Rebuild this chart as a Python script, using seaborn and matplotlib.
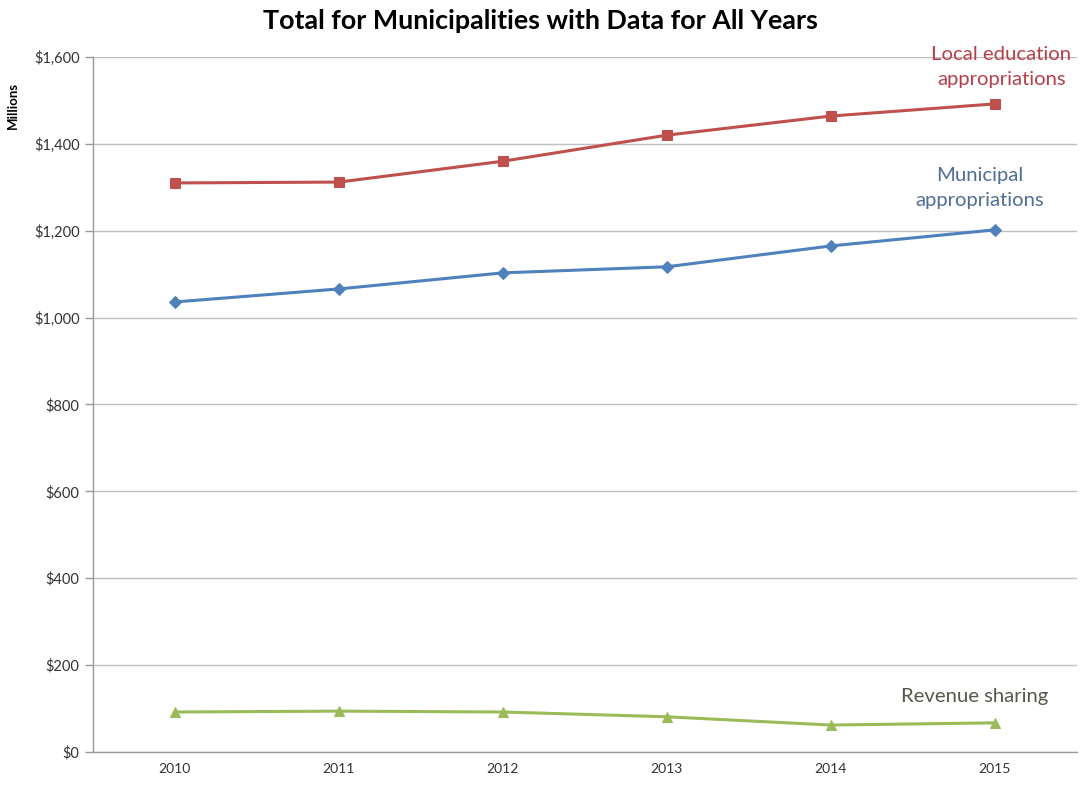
import matplotlib
matplotlib.use("Agg")
import matplotlib.pyplot as plt
import seaborn as sns
import pandas as pd
from matplotlib.ticker import FuncFormatter, FixedLocator

years = ["2010", "2011", "2012", "2013", "2014", "2015"]
local_education = [1310, 1312, 1360, 1420, 1464, 1492]
municipal = [1036, 1066, 1103, 1117, 1165, 1202]
revenue_sharing = [92, 94, 92, 81, 62, 67]

series_names = ["Local education appropriations", "Municipal appropriations", "Revenue sharing"]
colors = ["#C0504D", "#4F81BD", "#9BBB59"]
markers = ["s", "D", "^"]

sns.set_theme(style="white")
plt.rcParams["font.family"] = ["Lato", "DejaVu Sans"]

rows = []
for name, vals in zip(series_names, [local_education, municipal, revenue_sharing]):
    for i, (y, v) in enumerate(zip(years, vals)):
        rows.append({"idx": i, "year": y, "value": v, "series": name})
df = pd.DataFrame(rows)

fig = plt.figure(figsize=(10.8, 7.86), dpi=100)
ax = fig.add_axes([0.086, 0.0433, 0.911, 0.8842])

for name, c, m in zip(series_names, colors, markers):
    sub = df[df["series"] == name]
    sns.lineplot(data=sub, x="idx", y="value", color=c, marker=m, markersize=7 if m != "D" else 6.5,
                 markeredgecolor=c, linewidth=2.2, ax=ax, legend=False)

ax.set_xlim(-0.5, 5.5)
ax.set_ylim(0, 1600)
ax.set_yticks(range(0, 1601, 200))
ax.yaxis.set_major_formatter(FuncFormatter(lambda v, p: f"${int(v):,}"))
ax.set_xticks(range(len(years)))
ax.set_xticklabels(years)
ax.xaxis.set_minor_locator(FixedLocator([i - 0.5 for i in range(len(years) + 1)]))
ax.tick_params(axis="x", which="major", length=0, labelsize=10, pad=8, colors="#333333")
ax.tick_params(axis="x", which="minor", length=6, width=1, color="#999999", direction="out")
ax.tick_params(axis="y", length=6, width=1, color="#999999", direction="out", labelsize=10.5,
               colors="#333333", left=True)
ax.yaxis.grid(True, color="#BFBFBF", linewidth=1)
ax.set_axisbelow(True)
for s in ["top", "right"]:
    ax.spines[s].set_visible(False)
for s in ["left", "bottom"]:
    ax.spines[s].set_color("#999999")
    ax.spines[s].set_linewidth(1)
ax.set_xlabel("")
ax.set_ylabel("Millions", fontsize=9.5, fontweight="bold", color="black")
ax.yaxis.set_label_coords(-0.075, 0.93)

fig.text(0.5, 0.973, "Total for Municipalities with Data for All Years", ha="center", va="center",
         fontsize=19.4, fontweight="bold", color="black")

ax.text(5.04, 1577, "Local education\nappropriations", ha="center", va="center", fontsize=14.6,
        color="#B5404A", linespacing=1.55)
ax.text(4.91, 1298, "Municipal\nappropriations", ha="center", va="center", fontsize=14.6,
        color="#4F6E96", linespacing=1.55)
ax.text(4.88, 127, "Revenue sharing", ha="center", va="center", fontsize=14.6, color="#55584A")

fig.savefig("out.png", dpi=100)
